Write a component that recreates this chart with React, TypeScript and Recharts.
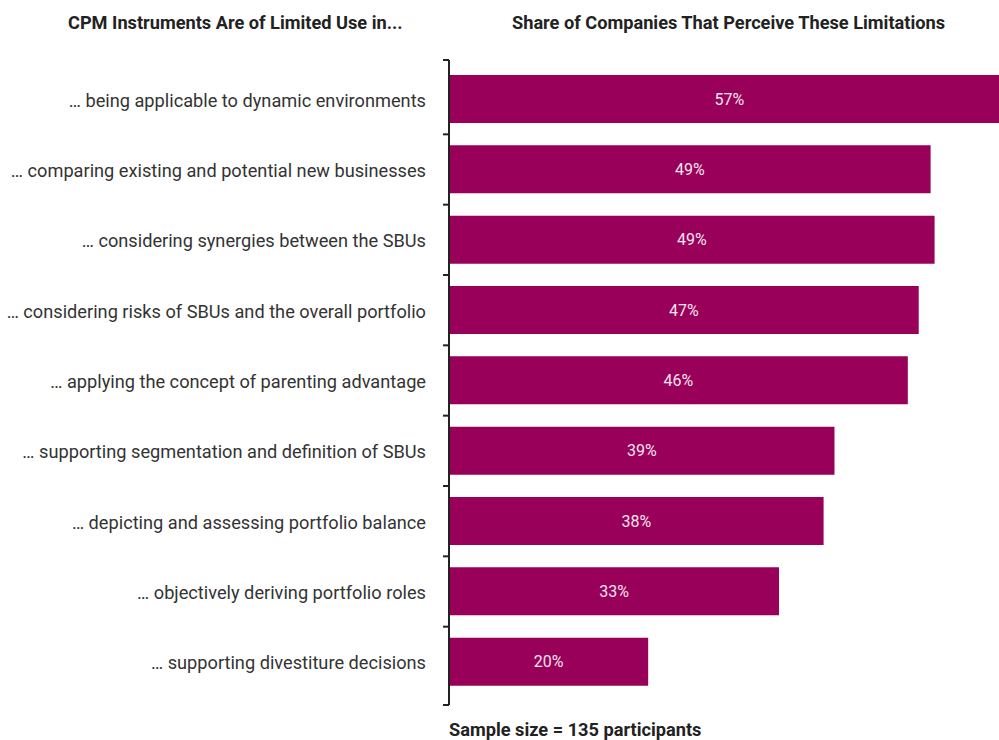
import { Bar, BarChart, LabelList, XAxis, YAxis } from "recharts";

const categories = [
  "… being applicable to dynamic environments",
  "… comparing existing and potential new businesses",
  "… considering synergies between the SBUs",
  "… considering risks of SBUs and the overall portfolio",
  "… applying the concept of parenting advantage",
  "… supporting segmentation and definition of SBUs",
  "… depicting and assessing portfolio balance",
  "… objectively deriving portfolio roles",
  "… supporting divestiture decisions",
];
const shares = [56.6, 48.6, 49.0, 47.4, 46.3, 38.9, 37.8, 33.3, 20.1];

const data = categories.map((name, i) => ({ name, share: shares[i] }));

const W = 999;
const H = 740;
const TOP = 60;
const BOTTOM = 35;
const AXIS_X = 449;
const PAD_TOP = 4;
const PAD_BOTTOM = 8;
const BAND = (H - TOP - BOTTOM - PAD_TOP - PAD_BOTTOM) / categories.length;
const FONT = "Roboto, 'Liberation Sans', sans-serif";
const BAR_COLOR = "#990059";

function CategoryTick(props: any) {
  const { y, payload } = props;
  const idx = categories.indexOf(payload.value);
  const marks = [idx === 0 ? TOP : y - BAND / 2];
  if (idx === categories.length - 1) marks.push(H - BOTTOM);
  return (
    <g>
      {marks.map((m, k) => (
        <line key={k} x1={AXIS_X - 6} x2={AXIS_X} y1={m} y2={m} stroke="#222" strokeWidth={2} />
      ))}
      <text x={AXIS_X - 23} y={y + 1} dy="0.35em" textAnchor="end" fill="#333" fontSize={18.2} fontFamily={FONT}>
        {payload.value}
      </text>
    </g>
  );
}

const headStyle: React.CSSProperties = {
  position: "absolute",
  top: 12,
  fontFamily: FONT,
  fontWeight: 700,
  fontSize: 18.2,
  color: "#222",
  whiteSpace: "nowrap",
};

export default function App() {
  return (
    <div style={{ position: "absolute", left: 0, top: 0, width: W, height: H, background: "#fff", overflow: "hidden" }}>
      <div style={{ ...headStyle, left: 68 }}>CPM Instruments Are of Limited Use in...</div>
      <div style={{ ...headStyle, left: 512 }}>Share of Companies That Perceive These Limitations</div>
      <BarChart
        width={W}
        height={H}
        data={data}
        layout="vertical"
        margin={{ top: TOP, right: 0, bottom: BOTTOM, left: 0 }}
        barCategoryGap={0}
      >
        <XAxis type="number" hide domain={[0, 55.5]} allowDataOverflow />
        <YAxis
          type="category"
          dataKey="name"
          width={AXIS_X}
          padding={{ top: PAD_TOP, bottom: PAD_BOTTOM }}
          axisLine={{ stroke: "#222", strokeWidth: 2 }}
          tickLine={false}
          interval={0}
          tick={<CategoryTick />}
        />
        <Bar dataKey="share" fill={BAR_COLOR} barSize={48} isAnimationActive={false}>
          <LabelList
            dataKey="share"
            position="center"
            fill="#f6e4ee"
            fontSize={16}
            fontFamily={FONT}
            formatter={(v: any) => `${Math.round(Number(v))}%`}
          />
        </Bar>
      </BarChart>
      <div style={{ ...headStyle, top: 719, left: 449 }}>Sample size = 135 participants</div>
    </div>
  );
}
